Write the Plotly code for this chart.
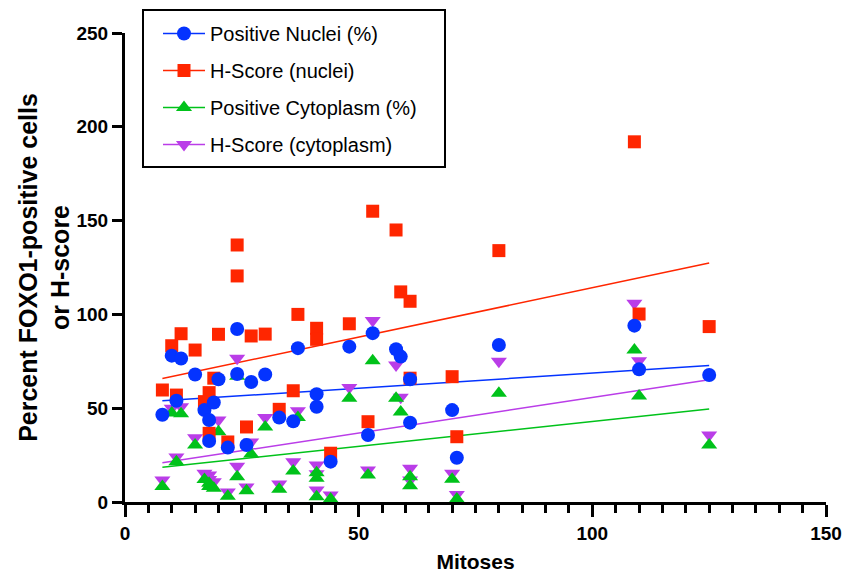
import numpy as np
import plotly.graph_objects as go

# Positive Nuclei (%)
nuc_x = [8, 10, 11, 12, 15, 17, 18, 18, 19, 20, 22, 24, 24, 26, 27, 30, 33, 36, 37,
         41, 41, 44, 48, 52, 53, 58, 59, 61, 61, 70, 71, 80, 109, 110, 125]
nuc_y = [46.5, 78, 54, 76.5, 68, 49, 43.7, 32.5, 53, 65.4, 29, 92.2, 68.2, 30.4, 64, 68, 45, 43, 82,
         57.5, 50.8, 21.5, 82.8, 35.7, 90, 81.4, 77.5, 65.4, 42.3, 49, 23.6, 83.7, 94, 70.7, 67.7]

# H-Score (nuclei)
hn_x = [8, 10, 11, 12, 15, 17, 18, 18, 19, 20, 22, 24, 24, 26, 27, 30, 33, 36, 37,
        41, 41, 44, 48, 52, 53, 58, 59, 61, 61, 70, 71, 80, 109, 110, 125]
hn_y = [59.7, 83.3, 57, 89.7, 81, 53.5, 58.3, 36.6, 66, 89.4, 32, 137, 120.5, 40, 88.5, 89.5, 49.4, 59.3, 100,
        92.6, 86.7, 26, 95, 42.8, 155, 145, 112, 107, 66, 66.8, 34.8, 134, 192, 100.2, 93.5]

# Positive Cytoplasm (%)
cyt_x = [8, 10, 11, 12, 15, 17, 18, 18, 19, 20, 22, 24, 24, 26, 27, 30, 33, 36, 37,
         41, 41, 41, 44, 48, 52, 53, 58, 59, 61, 61, 70, 71, 80, 109, 110, 125]
cyt_y = [8.2, 47.4, 21.5, 47, 30.4, 12, 8.2, 10, 7.3, 37.5, 3.0, 67, 13.5, 6, 25.6, 40, 6.8, 16.5, 45,
         15.6, 12.6, 2.8, 1.6, 55.3, 14.4, 75.3, 55.3, 48, 13.5, 8.7, 12.1, 1.6, 58, 81, 56.5, 30.4]

# H-Score (cytoplasm)
hc_x = [8, 10, 11, 12, 15, 17, 18, 18, 19, 20, 22, 24, 24, 26, 27, 30, 33, 36, 37,
        41, 41, 41, 44, 48, 52, 53, 58, 59, 61, 61, 70, 71, 80, 109, 110, 125]
hc_y = [11.7, 50, 24, 50.8, 34.3, 15.3, 12, 14.4, 10.8, 43.7, 5.3, 76.6, 19, 8, 32, 45, 9.6, 21.5, 48.7,
        19.7, 15, 6.4, 3.7, 61, 17, 96.7, 73, 55.8, 18, 11.7, 15.3, 4, 75, 106, 75.3, 35.7]

series = [
    ("H-Score (cytoplasm)", hc_x, hc_y, "#BA3DE8", "triangle-down", 14),
    ("Positive Cytoplasm (%)", cyt_x, cyt_y, "#00C21A", "triangle-up", 14),
    ("H-Score (nuclei)", hn_x, hn_y, "#FF2600", "square", 13),
    ("Positive Nuclei (%)", nuc_x, nuc_y, "#0433FF", "circle", 14),
]
legend_order = ["Positive Nuclei (%)", "H-Score (nuclei)", "Positive Cytoplasm (%)", "H-Score (cytoplasm)"]

fig = go.Figure()

# regression lines
for name, xs, ys, col, sym, sz in series:
    xa = np.array(xs, float)
    ya = np.array(ys, float)
    b, a = np.polyfit(xa, ya, 1)
    lx = np.array([xa.min(), xa.max()])
    fig.add_trace(go.Scatter(x=lx, y=a + b * lx, mode="lines",
                             line=dict(color=col, width=1.5),
                             showlegend=False, hoverinfo="skip", cliponaxis=False))

for name, xs, ys, col, sym, sz in series:
    fig.add_trace(go.Scatter(x=xs, y=ys, mode="markers", name=name,
                             marker=dict(color=col, symbol=sym, size=sz, line=dict(width=0)),
                             showlegend=False, cliponaxis=False))

# legend entries
info = {s[0]: s for s in series}
for i, nm in enumerate(legend_order):
    _, _, _, col, sym, sz = info[nm]
    fig.add_trace(go.Scatter(x=[None], y=[None], mode="lines+markers", name=nm,
                             legendgroup=f"g{i}", legendrank=i + 1,
                             line=dict(color=col, width=1.5),
                             marker=dict(color=col, symbol=sym, size=sz, line=dict(width=0))))

font_bold = "Liberation Sans, Arial, sans-serif"

# plot area in pixels: left 125, right 826, top 33, bottom 502
W, H = 848, 573
L, R, T, B = 125, 22, 33, 71
pw, ph = W - L - R, H - T - B
def px_x(p):
    return (p - L) / pw
def px_y(p):
    return (H - B - p) / ph

fig.update_layout(
    width=W, height=H,
    margin=dict(l=L, r=R, t=T, b=B, autoexpand=False),
    paper_bgcolor="white", plot_bgcolor="white",
    font=dict(family=font_bold, color="black"),
    showlegend=True,
    legend=dict(x=px_x(158), y=px_y(14), xanchor="left", yanchor="top",
                borderwidth=0, bgcolor="rgba(0,0,0,0)",
                font=dict(size=20, family="Liberation Sans, Arial, sans-serif"),
                traceorder="grouped", tracegroupgap=8, itemwidth=42),
    shapes=[dict(type="rect", xref="paper", yref="paper",
                 x0=px_x(143), x1=px_x(445), y0=px_y(167), y1=px_y(10),
                 line=dict(color="black", width=2), fillcolor="rgba(0,0,0,0)")],
    xaxis=dict(range=[0, 150], dtick=50, tick0=0, automargin=False,
               showgrid=False, zeroline=False,
               showline=True, linecolor="black", linewidth=3,
               ticks="outside", ticklen=12, tickwidth=3, tickcolor="black",
               minor=dict(dtick=5, ticklen=8, tickwidth=2.5, tickcolor="black", ticks="outside", showgrid=False),
               tickfont=dict(size=19, family=font_bold, weight="bold"),
               title=dict(text="<b>Mitoses</b>", font=dict(size=21), standoff=12)),
    yaxis=dict(range=[0, 250], dtick=50, tick0=0, automargin=False,
               showgrid=False, zeroline=False,
               showline=True, linecolor="black", linewidth=3,
               ticks="outside", ticklen=10, tickwidth=3, tickcolor="black",
               tickfont=dict(size=19, family=font_bold, weight="bold"),
               title=dict(text="<b>Percent FOXO1-positive cells<br>or H-score</b>", font=dict(size=25), standoff=0)),
)

fig.write_html("out.html")
